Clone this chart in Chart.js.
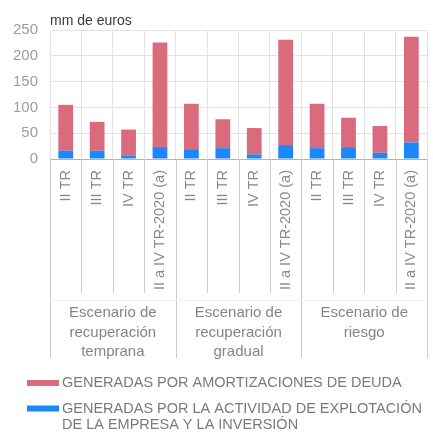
<!DOCTYPE html>
<html lang="es">
<head>
<meta charset="utf-8">
<title>Necesidades de liquidez por escenario</title>
<script src="https://cdn.jsdelivr.net/npm/chart.js@4.4.1/dist/chart.umd.min.js"></script>
<style>
  html, body { margin: 0; padding: 0; background: #fff; overflow: hidden; }
</style>
</head>
<body>
<canvas id="chart" width="440" height="439"></canvas>
<script>
// Quarter labels, repeated for each scenario
const quarters = [
    'II TR', 'III TR', 'IV TR', 'II a IV TR-2020 (a)',
    'II TR', 'III TR', 'IV TR', 'II a IV TR-2020 (a)',
    'II TR', 'III TR', 'IV TR', 'II a IV TR-2020 (a)'
];
const scenarios = [
    ['Escenario de', 'recuperación', 'temprana'],
    ['Escenario de', 'recuperación', 'gradual'],
    ['Escenario de', 'riesgo']
];

// mm de euros
const operatingValues = [16, 16, 6, 23, 19, 21, 9, 27, 21, 23, 12, 32];
const debtValues = [89, 56, 51, 203, 88, 56, 51, 204, 86, 57, 52, 205];

const yMax = 250;
const yStep = 50;
const unitLabel = 'mm de euros';

const debtColor = '#d96b7c';
const operatingColor = '#1a88f8';

const legendEntries = [
    { color: debtColor, lines: ['GENERADAS POR AMORTIZACIONES DE DEUDA'] },
    { color: operatingColor, lines: ['GENERADAS POR LA ACTIVIDAD DE EXPLOTACIÓN', 'DE LA EMPRESA Y LA INVERSIÓN'] }
];

const fontFamily = "'Liberation Sans', Arial, sans-serif";
Chart.defaults.font.family = fontFamily;

// Separators, scenario names, unit label and legend drawn around the plot
const scenarioPlugin = {
    id: 'scenarios',
    afterDraw(chart) {
        const { ctx, chartArea } = chart;
        const x = chart.scales.x;
        const half = (x.getPixelForValue(1) - x.getPixelForValue(0)) / 2;
        const edge = i => x.getPixelForValue(i) - half;
        const bottom = chartArea.bottom;

        ctx.save();

        // vertical separators under the axis
        ctx.lineWidth = 1;
        ctx.strokeStyle = '#cbcbcb';
        for (let i = 0; i <= quarters.length; i++) {
            const px = Math.round(edge(i)) + 0.5;
            const isGroup = i % 4 === 0;
            ctx.beginPath();
            ctx.moveTo(px, bottom);
            ctx.lineTo(px, bottom + (isGroup ? 199 : 134));
            ctx.stroke();
        }
        ctx.strokeStyle = '#efefef';
        ctx.beginPath();
        ctx.moveTo(edge(0), bottom + 141.5);
        ctx.lineTo(edge(quarters.length), bottom + 141.5);
        ctx.stroke();

        // scenario names
        ctx.fillStyle = '#858585';
        ctx.font = '15px ' + fontFamily;
        ctx.textAlign = 'center';
        ctx.textBaseline = 'middle';
        scenarios.forEach((lines, g) => {
            const cx = (edge(g * 4) + edge(g * 4 + 4)) / 2;
            lines.forEach((line, k) => {
                ctx.fillText(line, cx, bottom + 154 + k * 19.5);
            });
        });

        // unit label
        ctx.fillStyle = '#3a3a3a';
        ctx.font = '14px ' + fontFamily;
        ctx.textAlign = 'left';
        ctx.fillText(unitLabel, chartArea.left, 21);

        // legend
        ctx.font = '14.5px ' + fontFamily;
        let y = 383;
        legendEntries.forEach(entry => {
            ctx.fillStyle = entry.color;
            ctx.fillRect(27, y - 3, 32, 6);
            ctx.fillStyle = '#7a7a7a';
            entry.lines.forEach(line => {
                ctx.fillText(line, 62, y);
                y += 16.5;
            });
            y += 9;
        });

        ctx.restore();
    }
};

new Chart(document.getElementById('chart'), {
    type: 'bar',
    data: {
        labels: quarters,
        datasets: [
            {
                label: legendEntries[1].lines.join(' '),
                data: operatingValues,
                backgroundColor: operatingColor,
                borderWidth: 0
            },
            {
                label: legendEntries[0].lines.join(' '),
                data: debtValues,
                backgroundColor: debtColor,
                borderWidth: 0
            }
        ]
    },
    options: {
        responsive: false,
        animation: false,
        categoryPercentage: 1,
        barPercentage: 0.47,
        layout: { padding: { top: 30, right: 6, bottom: 140, left: 0 } },
        plugins: {
            legend: { display: false },
            tooltip: { enabled: false }
        },
        scales: {
            x: {
                stacked: true,
                afterFit: s => { s.height = 140; },
                grid: { color: '#e3e3e3', drawTicks: false },
                border: { display: true, color: '#b3b3b3' },
                ticks: {
                    autoSkip: false,
                    minRotation: 90,
                    maxRotation: 90,
                    padding: 11,
                    color: '#888888',
                    font: { size: 14.5 }
                }
            },
            y: {
                stacked: true,
                min: 0,
                max: yMax,
                afterFit: s => { s.width = 50; },
                grid: { color: '#e3e3e3', drawTicks: false },
                border: { display: false },
                ticks: {
                    stepSize: yStep,
                    padding: 12,
                    color: '#9d9d9d',
                    font: { size: 15 }
                }
            }
        }
    },
    plugins: [scenarioPlugin]
});
</script>
</body>
</html>
